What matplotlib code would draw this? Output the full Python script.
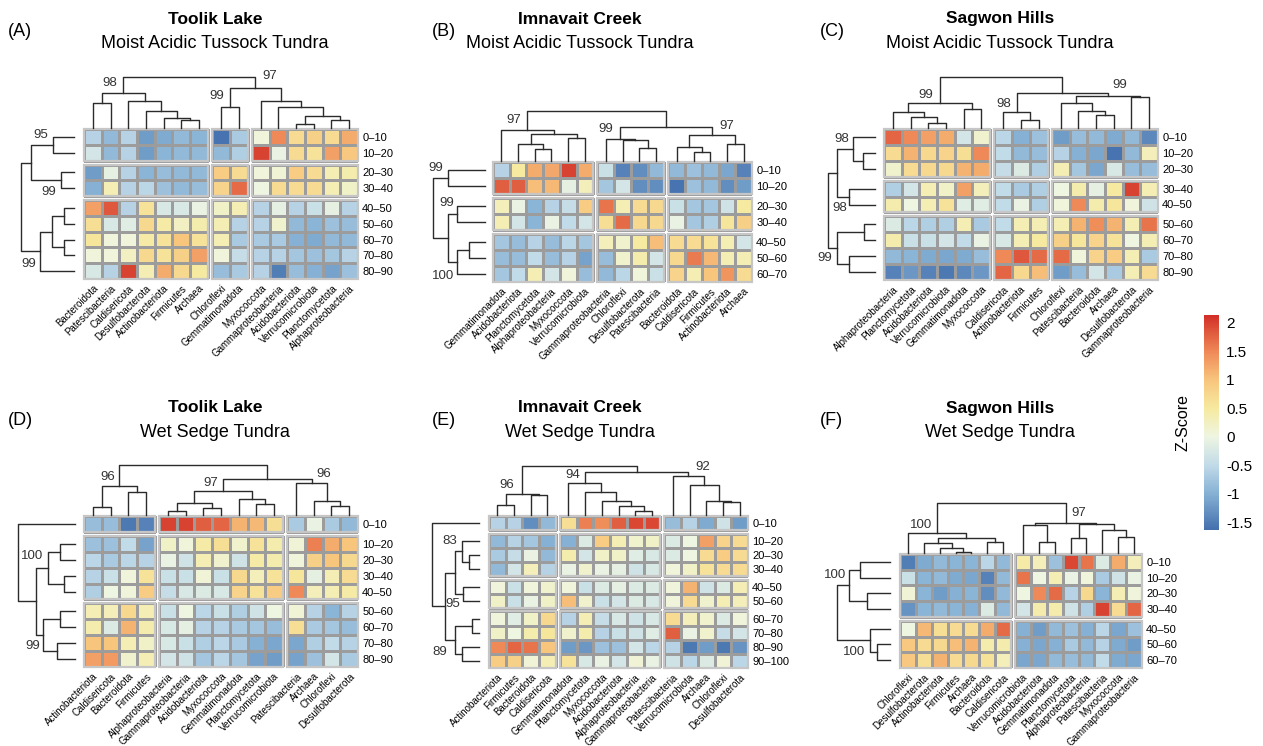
import numpy as np
import matplotlib
matplotlib.use('Agg')
import matplotlib.pyplot as plt
from matplotlib.colors import LinearSegmentedColormap, Normalize
from matplotlib.patches import Rectangle
from matplotlib.cm import ScalarMappable

plt.rcParams['font.family'] = ['Liberation Sans', 'DejaVu Sans']

# ---------------- data ----------------
depth7 = ['0–10', '10–20', '20–30', '30–40', '40–50', '50–60', '60–70']
depth9 = depth7 + ['70–80', '80–90']
depth10 = depth9 + ['90–100']

a_cols = ['Bacteroidota', 'Patescibacteria', 'Caldisericota', 'Desulfobacterota', 'Actinobacteriota',
          'Firmicutes', 'Archaea', 'Chloroflexi', 'Gemmatimonadota', 'Myxococcota',
          'Gammaproteobacteria', 'Acidobacteriota', 'Verrucomicrobiota', 'Planctomycetota',
          'Alphaproteobacteria']
a_z = [[-0.6, -0.9, -0.6, -1.2, -1.05, -0.9, -0.95, -1.6, -0.7, 0.05, 1.5, 0.7, 0.85, 0.7, 1.2],
       [-0.3, -0.9, -0.6, -1.2, -0.95, -0.9, -0.9, -0.9, -0.65, 2.0, -0.05, 0.7, 0.6, 1.3, 0.95],
       [-1.2, -0.1, -0.6, -0.95, -0.85, -0.9, -0.9, 0.9, 0.7, 0.05, 0.1, 0.9, 0.7, 0.35, 0.4],
       [-1.0, 0.35, -0.6, -0.55, -0.8, -0.9, -0.85, 0.8, 1.7, 0.0, 0.7, 0.7, 0.7, 0.35, 0.2],
       [1.3, 1.85, -0.6, 0.6, -0.25, -0.25, -0.05, 0.2, 0.35, -0.6, -0.1, -0.6, -0.4, -0.1, -0.6],
       [0.65, -0.25, -0.15, 0.75, 0.45, 0.25, 0.4, 0.35, -0.6, -0.6, 0.15, -0.9, -0.95, -0.8, -0.85],
       [0.55, 0.05, 0.05, 0.45, 0.6, 1.0, 0.6, 0.35, -0.7, -0.7, -0.7, -1.0, -1.05, -0.9, -0.9],
       [0.05, 0.05, 0.25, 0.75, 0.6, 0.85, 1.3, 0.05, -0.45, -0.6, -0.6, -0.75, -0.8, -0.75, -0.6],
       [-0.25, -0.6, 2.0, 0.35, 1.2, 0.75, 0.5, -0.85, -0.7, -0.6, -1.5, -0.85, -1.0, -1.15, -0.8]]
a_col_tree = (((0, 1, 0.5), (2, (3, (4, (5, 6, 0.15), 0.2), 0.33), 0.52), 0.69),
              ((7, 8, 0.42), (9, (10, ((11, 12, 0.08), (13, 14, 0.16), 0.24), 0.42), 0.52), 0.78), 1.0)
a_row_tree = (((0, 1, 0.39), (2, 3, 0.25), 0.81), (((4, 5, 0.19), (6, 7, 0.19), 0.41), 8, 0.64), 1.0)
a_col_boot = [(0, 6, '98', -0.35, 0.19), (7, 8, '99', -0.35, 0.2), (7, 14, '97', 0.4, 0.23)]
a_row_boot = [(0, 1, '95', -0.64, 0.24), (2, 3, '99', 0.76, 0.23), (4, 8, '99', 0.81, 0.22)]

b_cols = ['Gemmatimonadota', 'Acidobacteriota', 'Planctomycetota', 'Alphaproteobacteria', 'Myxococcota',
          'Verrucomicrobiota', 'Gammaproteobacteria', 'Chloroflexi', 'Desulfobacterota',
          'Patescibacteria', 'Bacteroidota', 'Caldisericota', 'Firmicutes', 'Actinobacteriota', 'Archaea']
b_z = [[-0.6, 0.5, 1.2, 1.25, 2.0, 1.2, -0.4, -1.45, -1.35, -0.9, -0.9, -0.8, -0.9, -1.1, -1.45],
       [1.8, 1.8, 1.05, 1.1, -0.1, 0.3, -0.75, -0.3, -1.35, -1.35, -1.6, -0.8, -0.9, -1.35, -1.2],
       [0.3, -0.05, -0.95, -0.6, -0.45, 0.9, 1.65, 0.35, 0.7, 0.75, -0.4, -0.75, -0.75, -0.35, 0.5],
       [0.35, -0.3, -0.95, -0.05, -0.5, -0.3, 0.65, 1.7, 0.75, 0.75, -0.05, -0.75, -0.65, 0.55, 0.85],
       [-0.75, -0.85, -0.6, -0.85, -0.55, -0.75, 0.3, 0.15, 0.5, 1.05, 0.7, 0.7, 0.6, 0.35, -0.3],
       [-0.85, -0.85, -0.5, -0.85, -0.6, -1.15, -0.85, 0.15, 0.4, -0.3, 0.75, 1.6, 1.1, 0.35, 0.35],
       [-0.75, -0.5, 0.35, -0.3, 0.05, -0.85, -0.9, -0.55, 0.05, -0.4, 0.8, 0.35, 1.0, 1.4, 0.7]]
b_col_tree = ((0, ((1, (2, 3, 0.25), 0.34), (4, 5, 0.46), 0.54), 0.63),
              ((6, (7, (8, 9, 0.27), 0.42), 0.45), ((10, (11, 12, 0.19), 0.28), (13, 14, 0.34), 0.53), 0.69), 1.0)
b_row_tree = ((0, 1, 0.71), ((2, 3, 0.53), ((4, 5, 0.30), 6, 0.53), 0.72), 1.0)
b_col_boot = [(0, 5, '97', -0.35, 0.19), (6, 9, '99', -0.45, 0.19), (10, 14, '97', 0.4, 0.17)]
b_row_boot = [(0, 1, '99', -0.6, 0.23), (2, 3, '99', -0.66, 0.21), (4, 6, '100', 0.85, 0.28)]

c_cols = ['Alphaproteobacteria', 'Planctomycetota', 'Acidobacteriota', 'Verrucomicrobiota',
          'Gemmatimonadota', 'Myxococcota', 'Caldisericota', 'Actinobacteriota', 'Firmicutes',
          'Chloroflexi', 'Patescibacteria', 'Bacteroidota', 'Archaea', 'Desulfobacterota',
          'Gammaproteobacteria']
c_z = [[1.75, 1.5, 1.3, 1.2, -0.3, 0.15, -0.55, -1.0, -0.8, -1.2, -0.85, -0.9, -1.05, -0.9, -1.4],
       [0.7, 1.15, 0.75, 0.8, 0.65, 1.5, -0.5, -0.9, -0.85, -0.6, -1.0, -1.1, -1.6, -0.9, 0.3],
       [0.15, 0.7, 0.75, 0.75, 1.15, 1.2, -0.45, -0.2, -0.65, 0.35, -0.75, -1.1, -0.25, -0.85, -0.85],
       [-0.65, -0.3, 0.35, 0.2, 1.3, 0.3, -0.5, -0.7, -0.65, 0.0, 0.4, -0.1, 0.5, 2.0, 0.35],
       [0.4, 0.0, 0.35, 0.6, -0.15, -0.15, -0.5, -0.05, -0.65, 0.05, 1.5, 0.4, 0.55, 0.05, -0.35],
       [-0.2, -0.55, -0.65, -0.65, 0.35, -0.7, -0.5, 0.35, 0.35, 0.35, 1.15, 1.45, 1.15, 0.35, 1.65],
       [0.4, -0.4, -0.4, -0.3, -0.5, -0.05, -0.25, 0.35, 0.5, 0.85, 0.55, 0.8, 0.6, 0.0, 0.35],
       [-0.9, -0.95, -1.05, -1.1, -1.05, -0.85, 1.5, 1.85, 1.7, 1.7, 0.05, 0.8, 0.9, 0.35, -0.7],
       [-1.45, -1.25, -1.45, -1.55, -1.4, -1.25, 1.75, 0.75, 1.05, -1.2, -0.85, -0.3, -0.7, 0.35, 0.7]]
c_col_tree = (((0, (1, (2, 3, 0.10), 0.21), 0.31), (4, 5, 0.38), 0.5),
              ((6, (7, 8, 0.15), 0.31), ((9, (10, (11, 12, 0.26), 0.34), 0.5), (13, 14, 0.61), 0.63), 0.69), 1.0)
c_row_tree = (((0, (1, 2, 0.26), 0.46), (3, 4, 0.55), 0.81), ((5, 6, 0.23), (7, 8, 0.55), 0.80), 1.0)
c_col_boot = [(0, 5, '99', -0.4, 0.15), (6, 8, '98', -0.3, 0.16), (9, 14, '99', 0.25, 0.21)]
c_row_boot = [(0, 2, '98', -0.6, 0.25), (3, 4, '98', 0.7, 0.21), (5, 8, '99', 0.6, 0.26)]

d_cols = ['Actinobacteriota', 'Caldisericota', 'Bacteroidota', 'Firmicutes', 'Alphaproteobacteria',
          'Gammaproteobacteria', 'Acidobacteriota', 'Myxococcota', 'Gemmatimonadota',
          'Planctomycetota', 'Verrucomicrobiota', 'Patescibacteria', 'Archaea', 'Chloroflexi',
          'Desulfobacterota']
d_z = [[-0.85, -0.85, -1.55, -1.45, 2.0, 2.0, 1.8, 1.75, 1.15, 1.1, 0.65, -0.7, -0.05, -0.7, -0.9],
       [-0.8, -0.8, -0.5, -1.15, 0.2, 0.05, 0.45, 0.65, 0.15, 0.6, 0.4, 0.1, 1.55, 1.2, 1.0],
       [-0.55, -0.7, -0.55, -0.6, -0.05, -0.35, 0.35, 0.15, -0.35, 0.45, 0.4, 0.05, 0.85, 1.0, 0.75],
       [-0.6, -0.4, 0.05, 0.6, -0.4, -0.4, 0.1, -0.4, 0.75, 0.3, 0.6, 0.55, -0.1, 0.35, 0.7],
       [-0.65, 0.0, 0.05, 0.9, -0.45, -0.25, -0.2, -0.25, 0.8, 0.6, 0.9, 1.5, 0.3, 0.35, 0.45],
       [0.35, 0.3, 0.75, 0.35, -0.4, 0.0, -0.55, -0.4, -0.65, -0.35, 0.0, 0.1, -0.6, -0.95, -0.6],
       [0.4, -0.2, 1.15, 0.4, -0.25, -0.1, -0.6, -0.6, -0.7, -0.75, -0.85, 0.65, -0.7, -0.75, -0.85],
       [1.0, 1.0, 0.35, 0.2, -0.25, -0.4, -0.65, -0.55, -0.7, -1.0, -1.1, -1.1, -0.65, -0.5, -0.6],
       [1.3, 1.35, 0.15, 0.35, -0.3, -0.35, -0.75, -0.55, -0.75, -1.15, -1.2, -1.15, -0.8, -0.3, -0.7]]
d_col_tree = (((0, 1, 0.16), (2, 3, 0.46), 0.58),
              ((((4, 5, 0.08), (6, 7, 0.15), 0.25), (8, (9, 10, 0.22), 0.33), 0.49),
               (11, (12, (13, 14, 0.18), 0.28), 0.65), 0.72), 1.0)
d_row_tree = (0, (((1, 2, 0.26), (3, 4, 0.19), 0.48), ((5, 6, 0.26), (7, 8, 0.31), 0.56), 0.69), 1.0)
d_col_boot = [(0, 3, '96', -0.25, 0.19), (4, 10, '97', -0.3, 0.15), (11, 14, '96', 0.25, 0.17)]
d_row_boot = [(1, 4, '100', -0.75, 0.27), (5, 8, '99', 0.7, 0.19)]

e_cols = ['Actinobacteriota', 'Firmicutes', 'Bacteroidota', 'Caldisericota', 'Gemmatimonadota',
          'Planctomycetota', 'Myxococcota', 'Acidobacteriota', 'Alphaproteobacteria',
          'Gammaproteobacteria', 'Patescibacteria', 'Verrucomicrobiota', 'Archaea', 'Chloroflexi',
          'Desulfobacterota']
e_z = [[-0.6, -0.6, -1.35, -0.9, 0.65, 1.55, 1.45, 1.8, 1.95, 1.95, -0.85, -0.6, -1.05, -0.35, -1.2],
       [-0.9, -0.6, -0.75, -1.0, -1.0, -0.2, 0.9, 0.35, 0.15, 0.2, -0.2, 0.0, 1.3, 0.8, 0.7],
       [-0.7, -0.45, -0.05, -0.9, 0.4, -0.3, 0.2, 0.2, -0.15, -0.25, -0.2, 0.0, 0.7, 0.9, 0.7],
       [-0.9, -0.3, 0.3, -0.6, -0.05, 0.15, -0.05, -0.1, -0.35, -0.25, 0.05, 0.2, 0.6, 0.7, 0.7],
       [0.05, -0.4, 0.05, 0.15, 0.05, -0.4, -0.2, -0.1, -0.2, -0.2, 0.05, 1.15, -0.35, -0.2, 0.35],
       [0.2, -0.4, -0.05, 0.2, 1.05, 0.15, -0.4, -0.3, -0.2, -0.25, 0.05, 0.7, 0.15, 0.35, 0.3],
       [0.05, -0.15, 0.2, 0.75, -0.6, 0.35, -0.45, -0.25, -0.35, -0.25, 0.7, 0.3, 0.15, -0.2, 0.05],
       [0.2, 0.0, 0.4, 0.55, 0.15, 0.4, -0.6, -0.4, -0.35, -0.15, 1.8, -0.05, 0.15, -0.45, -0.3],
       [1.5, 1.75, 1.65, 1.0, -1.2, -1.25, -0.8, -0.8, -0.3, -0.55, -0.6, -1.55, -1.2, -1.55, -1.3],
       [0.9, 0.85, 0.1, 0.35, 0.6, -0.25, -0.05, -0.3, 0.1, -0.05, -0.35, -0.55, -0.2, 0.1, -0.55]]
e_col_tree = (((0, 1, 0.2), (2, 3, 0.41), 0.42),
              ((4, (5, (6, (7, (8, 9, 0.08), 0.18), 0.29), 0.46), 0.65),
               (10, (11, (12, (13, 14, 0.26), 0.28), 0.62), 0.80), 0.87), 1.0)
e_row_tree = (0, (((1, (2, 3, 0.21), 0.37), (4, 5, 0.34), 0.52), ((6, 7, 0.14), (8, 9, 0.37), 0.52), 0.73), 1.0)
e_col_boot = [(0, 3, '96', -0.5, 0.2), (4, 9, '94', -0.25, 0.17), (10, 14, '92', 0.4, 0.18)]
e_row_boot = [(1, 3, '83', -0.75, 0.25), (4, 5, '95', 0.74, 0.21), (6, 9, '89', 0.86, 0.31)]

f_cols = ['Chloroflexi', 'Desulfobacterota', 'Actinobacteriota', 'Firmicutes', 'Archaea',
          'Bacteroidota', 'Caldisericota', 'Verrucomicrobiota', 'Acidobacteriota', 'Gemmatimonadota',
          'Planctomycetota', 'Alphaproteobacteria', 'Patescibacteria', 'Myxococcota',
          'Gammaproteobacteria']
f_z = [[-1.5, -1.05, -0.9, -0.95, -0.95, -0.55, -0.9, 0.45, 0.3, -0.8, 1.95, 1.65, -0.2, 1.2, 0.3],
       [-0.4, -0.95, -0.9, -1.05, -1.1, -1.45, -0.9, 1.65, 0.0, 0.35, -0.05, 0.05, -0.7, -0.35, -0.05],
       [0.1, -0.95, -1.2, -1.0, -0.95, -1.35, -0.9, 0.0, 1.5, 1.7, -0.6, 0.75, -0.95, 0.35, 0.05],
       [-1.3, -0.95, -0.9, -0.95, -1.0, -0.2, -0.9, -0.3, 0.4, 0.4, -0.35, -0.65, 2.0, 0.7, 1.75],
       [0.0, 1.1, 0.65, 0.7, 0.7, 1.2, 1.7, -1.0, -1.2, -0.9, -0.8, -1.0, -0.55, -1.1, -0.8],
       [0.95, 0.7, 0.75, 1.05, 1.15, 0.4, 0.4, -1.0, -1.1, -1.0, -0.7, -0.9, -0.6, -1.05, -1.2],
       [0.95, 0.65, 1.15, 0.7, 0.75, 0.6, 0.3, -1.1, -1.1, -0.9, -0.85, -0.9, -0.5, -1.05, -1.1]]
f_col_tree = ((0, ((1, (2, (3, 4, 0.03), 0.11), 0.2), (5, 6, 0.23), 0.30), 0.41),
              ((7, (8, 9, 0.22), 0.56), ((10, 11, 0.3), (12, (13, 14, 0.33), 0.46), 0.59), 0.61), 1.0)
f_row_tree = (((0, 1, 0.56), (2, 3, 0.44), 0.77), (4, (5, 6, 0.24), 0.37), 1.0)
f_col_boot = [(0, 6, '100', -0.3, 0.15), (7, 14, '97', 0.35, 0.18)]
f_row_boot = [(0, 3, '100', -0.67, 0.27), (4, 6, '100', 0.73, 0.3)]

# ---------------- style ----------------
W, H = 1263, 746
fig = plt.figure(figsize=(W / 100, H / 100), dpi=100)

vmin, vmax = -1.64, 2.14
stops = [(-1.64, '#4470ae'), (-1.0, '#86b1d4'), (-0.5, '#c2dbe8'), (0.0, '#eef5e2'),
         (0.5, '#f6eaa0'), (1.0, '#f8c57d'), (1.5, '#ef8957'), (2.14, '#d22f27')]
cmap = LinearSegmentedColormap.from_list(
    'z', [((v - vmin) / (vmax - vmin), c) for v, c in stops])
norm = Normalize(vmin, vmax)
GAP = 0.25
LC = '#2b2b2b'


def rect(x0, y0, x1, y1):
    return [x0 / W, 1 - y1 / H, (x1 - x0) / W, (y1 - y0) / H]


def positions(n, breaks):
    idx = np.arange(n)
    return idx + GAP * np.searchsorted(breaks, idx, side='right')


def leafset(node):
    if isinstance(node, int):
        return [node]
    return leafset(node[0]) + leafset(node[1])


def draw_tree(ax, node, pos, orient, store):
    if isinstance(node, int):
        return pos[node] + 0.5, 0.0
    l, r, h = node
    lc, lh = draw_tree(ax, l, pos, orient, store)
    rc, rh = draw_tree(ax, r, pos, orient, store)
    if orient == 'col':
        ax.plot([lc, lc, rc, rc], [lh, h, h, rh], color=LC, lw=1, clip_on=False)
    else:
        ax.plot([lh, h, h, rh], [lc, lc, rc, rc], color=LC, lw=1, clip_on=False)
    lv = leafset(node)
    c = (lc + rc) / 2
    store[(min(lv), max(lv))] = (c, h)
    return c, h


def panel(hm, top, root, leaf_end, z, cols, rows, cbreaks, rbreaks,
          ctree, rtree, cboot, rboot):
    x0, y0, x1, y1 = hm
    z = np.array(z)
    nr, nc = z.shape
    xp = positions(nc, cbreaks)
    yp = positions(nr, rbreaks)

    ax = fig.add_axes(rect(x0, y0, x1, y1))
    cb = [0] + list(cbreaks) + [nc]
    rb = [0] + list(rbreaks) + [nr]
    for i in range(len(rb) - 1):
        for j in range(len(cb) - 1):
            a, b = cb[j], cb[j + 1]
            c, d = rb[i], rb[i + 1]
            ax.pcolormesh(xp[a] + np.arange(b - a + 1), yp[c] + np.arange(d - c + 1),
                          z[c:d, a:b], cmap=cmap, norm=norm,
                          edgecolors='#9c9c9c', linewidth=0.8)
            ax.add_patch(Rectangle((xp[a], yp[c]), b - a, d - c, fill=False,
                                   ec='#c6c6c6', lw=1.6, zorder=3, clip_on=False))
    ax.set_xlim(0, xp[-1] + 1)
    ax.set_ylim(yp[-1] + 1, 0)
    ax.set_xticks(xp + 0.5)
    ax.set_xticklabels(cols, rotation=45, ha='right', rotation_mode='anchor', fontsize=7)
    ax.yaxis.tick_right()
    ax.set_yticks(yp + 0.5)
    ax.set_yticklabels(rows, fontsize=8)
    ax.tick_params(length=0, pad=3)
    for s in ax.spines.values():
        s.set_visible(False)

    # column dendrogram
    axc = fig.add_axes(rect(x0, top, x1, y0 - 1))
    store = {}
    draw_tree(axc, ctree, xp, 'col', store)
    axc.set_xlim(0, xp[-1] + 1)
    axc.set_ylim(0, 1.0)
    axc.axis('off')
    for lo, hi, t, dx, dh in cboot:
        c, h = store[(lo, hi)]
        axc.text(c + dx, h + dh, t, ha='right' if dx < 0 else 'left', va='center',
                 fontsize=9.5, color='#333333')

    # row dendrogram
    axr = fig.add_axes(rect(root, y0, leaf_end, y1))
    store = {}
    draw_tree(axr, rtree, yp, 'row', store)
    axr.set_ylim(yp[-1] + 1, 0)
    axr.set_xlim(1.0, 0)
    axr.axis('off')
    for lo, hi, t, dy, dh in rboot:
        c, h = store[(lo, hi)]
        axr.text(h + dh, c + dy, t, ha='center', va='center', fontsize=9.5, color='#333333')


panel((84, 129, 358, 279), 77, 21, 74, a_z, a_cols, depth9, [7, 9], [2, 4],
      a_col_tree, a_row_tree, a_col_boot, a_row_boot)
panel((493, 162, 752, 282), 111, 433, 485, b_z, b_cols, depth7, [6, 10], [2, 4],
      b_col_tree, b_row_tree, b_col_boot, b_row_boot)
panel((884, 129, 1158, 280), 77, 828, 875, c_z, c_cols, depth9, [6, 9], [3, 5],
      c_col_tree, c_row_tree, c_col_boot, c_row_boot)
panel((84, 516, 358, 667), 465, 18, 75, d_z, d_cols, depth9, [4, 11], [1, 5],
      d_col_tree, d_row_tree, d_col_boot, d_row_boot)
panel((489, 516, 748, 668), 466, 432, 479, e_z, e_cols, depth10, [4, 10], [1, 4, 6],
      e_col_tree, e_row_tree, e_col_boot, e_row_boot)
panel((900, 554, 1142, 668), 503, 837, 890, f_z, f_cols, depth7, [7], [4],
      f_col_tree, f_row_tree, f_col_boot, f_row_boot)

# titles
titles = [('(A)', 'Toolik Lake', 'Moist Acidic Tussock Tundra', 8, 215, 19),
          ('(B)', 'Imnavait Creek', 'Moist Acidic Tussock Tundra', 432, 580, 19),
          ('(C)', 'Sagwon Hills', 'Moist Acidic Tussock Tundra', 820, 1000, 19),
          ('(D)', 'Toolik Lake', 'Wet Sedge Tundra', 8, 215, 408),
          ('(E)', 'Imnavait Creek', 'Wet Sedge Tundra', 432, 580, 408),
          ('(F)', 'Sagwon Hills', 'Wet Sedge Tundra', 820, 1000, 408)]
for lab, t1, t2, lx, cx, ty in titles:
    fig.text(lx / W, 1 - (ty + 12) / H, lab, fontsize=13, ha='left', va='center')
    fig.text(cx / W, 1 - ty / H, t1, fontsize=12.5, fontweight='bold', ha='center', va='center')
    fig.text(cx / W, 1 - (ty + 24) / H, t2, fontsize=13, ha='center', va='center')

# colorbar
cax = fig.add_axes(rect(1204, 315, 1219, 530))
cbar = fig.colorbar(ScalarMappable(norm=norm, cmap=cmap), cax=cax)
cbar.set_ticks([2, 1.5, 1, 0.5, 0, -0.5, -1, -1.5])
cbar.set_ticklabels(['2', '1.5', '1', '0.5', '0', '-0.5', '-1', '-1.5'])
cbar.ax.tick_params(length=0, labelsize=11, pad=5)
cbar.outline.set_visible(False)
fig.text(1183 / W, 1 - 422 / H, 'Z-Score', rotation=90, fontsize=11.5, ha='center', va='center')

fig.savefig('out.png', dpi=100)
